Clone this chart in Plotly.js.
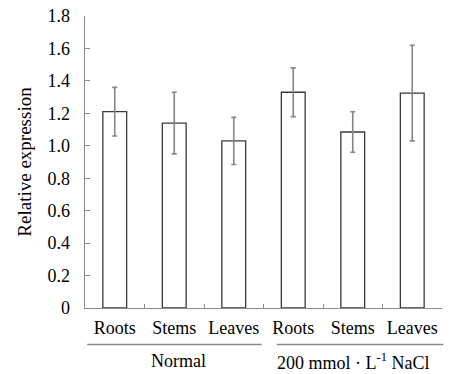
<!DOCTYPE html>
<html>
<head>
<meta charset="utf-8">
<script src="https://cdn.plot.ly/plotly-3.0.1.min.js"></script>
<style>html,body{margin:0;padding:0;background:#fff;}#chart{width:452px;height:374px;}</style>
</head>
<body>
<div id="chart"></div>
<script>
const tissues = ["Roots", "Stems", "Leaves", "Roots", "Stems", "Leaves"];
const groups = ["Normal", "200 mmol · L<sup>-1</sup> NaCl"];
const expression = [1.21, 1.14, 1.03, 1.33, 1.085, 1.325];
const errors = [0.15, 0.19, 0.145, 0.15, 0.125, 0.295];
const yTickVals = [0, 0.2, 0.4, 0.6, 0.8, 1.0, 1.2, 1.4, 1.6, 1.8];
const yTickText = ["0", "0.2", "0.4", "0.6", "0.8", "1.0", "1.2", "1.4", "1.6", "1.8"];

const xPos = tissues.map((_, i) => i);
const font = {family: "Liberation Serif, Times New Roman, serif", size: 18, color: "#000"};
const titleFont = {family: "Liberation Serif, Times New Roman, serif", size: 19, color: "#000"};
const axisGray = "#8c8c8c";

const trace = {
  type: "bar",
  x: xPos,
  y: expression,
  width: 0.4,
  marker: {color: "#ffffff", line: {color: "#3a3a3a", width: 1.3}},
  error_y: {type: "data", array: errors, visible: true, color: "#858585", thickness: 1.6, width: 2.5},
  hoverinfo: "none"
};

const layout = {
  width: 452, height: 374,
  margin: {l: 85, r: 10, t: 16, b: 66, pad: 0},
  paper_bgcolor: "#fff", plot_bgcolor: "#fff",
  font: font,
  showlegend: false,
  xaxis: {
    range: [-0.5, 5.5], fixedrange: true,
    tickmode: "array", tickvals: xPos, ticktext: tissues,
    ticks: "inside", ticklen: 0, tickcolor: axisGray,
    minor: {ticks: "inside", tickmode: "linear", tick0: 0.5, dtick: 1, ticklen: 4, tickwidth: 1, tickcolor: axisGray, showgrid: false},
    showline: true, linecolor: axisGray, linewidth: 1.3,
    showgrid: false, zeroline: false,
    tickfont: font, ticklabelstandoff: 3
  },
  yaxis: {
    range: [0, 1.8], fixedrange: true,
    tickmode: "array", tickvals: yTickVals, ticktext: yTickText,
    ticks: "inside", ticklen: 5, tickwidth: 1, tickcolor: axisGray,
    showline: true, linecolor: axisGray, linewidth: 1.3,
    showgrid: false, zeroline: false,
    tickfont: font, ticklabelstandoff: 10,
    title: {text: "Relative expression", font: titleFont, standoff: 11},
    automargin: false
  },
  shapes: [
    {type: "line", xref: "paper", yref: "paper", x0: 0.006, x1: 0.495, y0: -0.125, y1: -0.125, line: {color: axisGray, width: 1.3}},
    {type: "line", xref: "paper", yref: "paper", x0: 0.537, x1: 1.004, y0: -0.125, y1: -0.125, line: {color: axisGray, width: 1.3}}
  ],
  annotations: [
    {text: groups[0], xref: "paper", yref: "paper", x: 0.263, y: -0.183, showarrow: false, font: font, xanchor: "center", yanchor: "middle"},
    {text: groups[1], xref: "paper", yref: "paper", x: 0.752, y: -0.183, showarrow: false, font: font, xanchor: "center", yanchor: "middle"}
  ]
};

Plotly.newPlot("chart", [trace], layout, {staticPlot: true, displayModeBar: false});
</script>
</body>
</html>
